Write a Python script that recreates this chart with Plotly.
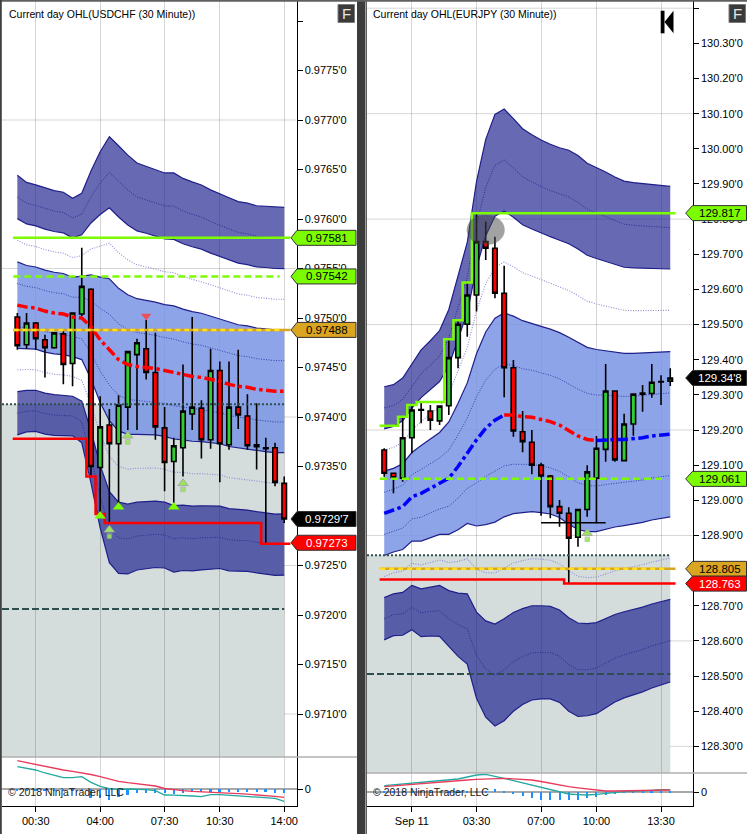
import pandas as pd
import plotly.graph_objects as go

W, H = 747, 834

# ---------------- USDCHF (left pane) ----------------
chf_times = pd.date_range("2018-09-10 23:30", periods=30, freq="30min")
chf_open = [0.97501, 0.97473, 0.97495, 0.97478, 0.97470, 0.97484, 0.97454, 0.97504, 0.97529, 0.97349,
            0.97392, 0.97373, 0.97410, 0.97463, 0.97469, 0.97445, 0.97389, 0.97355, 0.97369, 0.97403,
            0.97409, 0.97377, 0.97447, 0.97372, 0.97410, 0.97401, 0.97372, 0.97369, 0.97369, 0.97333]
chf_high = [0.97505, 0.97505, 0.97496, 0.97483, 0.97485, 0.97488, 0.97505, 0.97571, 0.97530, 0.97421,
            0.97408, 0.97422, 0.97466, 0.97479, 0.97498, 0.97485, 0.97410, 0.97379, 0.97453, 0.97501,
            0.97417, 0.97469, 0.97456, 0.97456, 0.97468, 0.97423, 0.97414, 0.97379, 0.97374, 0.97340]
chf_low = [0.97468, 0.97469, 0.97468, 0.97440, 0.97469, 0.97433, 0.97431, 0.97502, 0.97341, 0.97301,
           0.97294, 0.97309, 0.97387, 0.97387, 0.97438, 0.97377, 0.97325, 0.97313, 0.97340, 0.97387,
           0.97358, 0.97368, 0.97334, 0.97367, 0.97388, 0.97367, 0.97347, 0.97272, 0.97330, 0.97293]
chf_close = [0.97472, 0.97495, 0.97479, 0.97470, 0.97485, 0.97453, 0.97505, 0.97532, 0.97350, 0.97390,
             0.97373, 0.97412, 0.97466, 0.97475, 0.97445, 0.97390, 0.97354, 0.97371, 0.97406, 0.97410,
             0.97377, 0.97447, 0.97373, 0.97410, 0.97402, 0.97371, 0.97370, 0.97368, 0.97334, 0.97297]
chf_vwap = [0.97513, 0.97511, 0.97510, 0.97507, 0.97505, 0.97504, 0.97501, 0.97500, 0.97491, 0.97478,
            0.97468, 0.97458, 0.97453, 0.97451, 0.97450, 0.97449, 0.97447, 0.97445, 0.97443, 0.97441,
            0.97440, 0.97438, 0.97436, 0.97433, 0.97431, 0.97430, 0.97428, 0.97427, 0.97426, 0.97426]
chf_sigma = [0.000437, 0.000420, 0.000415, 0.000414, 0.000412, 0.000410, 0.000400, 0.000420, 0.000525, 0.000633,
             0.000717, 0.000720, 0.000705, 0.000685, 0.000678, 0.000670, 0.000665, 0.000672, 0.000660, 0.000655,
             0.000648, 0.000638, 0.000630, 0.000628, 0.000622, 0.000620, 0.000618, 0.000620, 0.000620, 0.000619]
chf_low_line = [0.97378, 0.97378, 0.97378, 0.97378, 0.97378, 0.97378, 0.97378, 0.97378, 0.97340, 0.97302,
                0.97293, 0.97293, 0.97293, 0.97293, 0.97293, 0.97293, 0.97293, 0.97293, 0.97293, 0.97293,
                0.97293, 0.97293, 0.97293, 0.97293, 0.97293, 0.97293, 0.97293, 0.97272, 0.97272, 0.97272]
chf_high_level = 0.97581
chf_high_dash = 0.97542
chf_open_level = 0.97488
chf_prev_dot = 0.97413
chf_prev_dash = 0.97206
chf_last = 0.97297
chf_macd = [28.3, 26.3, 24.3, 23.0, 21.0, 19.0, 17.7, 16.3, 14.5, 12.3, 10.0, 7.7, 6.3, 5.0, 4.0,
            3.0, 0.5, -0.8, -1.7, -2.4, -3.0, -3.5, -4.0, -4.3, -4.7, -5.2, -5.7, -6.5, -7.4, -8.3]
chf_signal = [22.3, 20.5, 19.0, 16.0, 13.5, 11.3, 11.3, 12.3, 6.7, 2.7, 0.3, -0.3, 0.0, 0.0, -0.7,
              -1.7, -6.0, -6.2, -6.3, -7.0, -7.7, -5.7, -5.7, -6.3, -7.0, -7.5, -8.0, -8.5, -9.3, -12.3]
chf_hist = [-2, -2, -2, -2, -2, -2, -2, -2, -9, -9, -11, -8, -6, -4, -4,
            -4, -4, -5, -4, -3, -3, -3, -3, -3, -3, -3, -3, -3, -4, -4]
chf_tri_up_idx = [9, 11, 17]
chf_tri_up_y = [0.97300, 0.97309, 0.97309]
chf_arrow_idx = [10, 12, 18]
chf_arrow_y = [0.97283, 0.97378, 0.97330]
chf_tri_dn_idx = [14]
chf_tri_dn_y = [0.97502]
chf_yticks = [0.9710, 0.9715, 0.9720, 0.9725, 0.9730, 0.9735, 0.9740, 0.9745,
              0.9750, 0.9755, 0.9760, 0.9765, 0.9770, 0.9775, 0.9780]
chf_ygrid = [0.9710, 0.9725, 0.9740, 0.9755, 0.9770]
chf_xticks = ["2018-09-11 00:30", "2018-09-11 04:00", "2018-09-11 07:30",
              "2018-09-11 10:30", "2018-09-11 14:00"]
chf_xtext = ["00:30", "04:00", "07:30", "10:30", "14:00"]

# ---------------- EURJPY (right pane) ----------------
jpy_times = pd.date_range("2018-09-10 22:30", periods=32, freq="30min")
jpy_open = [129.143, 129.077, 129.063, 129.178, 129.258, 129.254, 129.226, 129.269, 129.406, 129.501,
            129.584, 129.736, 129.717, 129.589, 129.377, 129.195, 129.165, 129.100, 129.069, 128.982,
            128.963, 128.895, 128.974, 129.063, 129.145, 129.311, 129.113, 129.217, 129.305, 129.304,
            129.338, 129.339]
jpy_high = [129.148, 129.078, 129.238, 129.271, 129.280, 129.271, 129.270, 129.458, 129.512, 129.620,
            129.817, 129.793, 129.750, 129.667, 129.399, 129.254, 129.200, 129.107, 129.072, 129.001,
            128.980, 128.975, 129.100, 129.183, 129.388, 129.311, 129.246, 129.302, 129.328, 129.388,
            129.356, 129.376]
jpy_low = [129.067, 129.020, 129.053, 129.134, 129.219, 129.200, 129.214, 129.243, 129.376, 129.465,
           129.537, 129.684, 129.575, 129.293, 129.181, 129.137, 129.074, 128.956, 128.949, 128.925,
           128.765, 128.868, 128.953, 128.935, 129.110, 129.110, 129.113, 129.184, 129.252, 129.292,
           129.271, 129.325]
jpy_close = [129.077, 129.064, 129.178, 129.257, 129.256, 129.228, 129.268, 129.406, 129.501, 129.584,
             129.736, 129.717, 129.589, 129.377, 129.197, 129.167, 129.100, 129.069, 128.982, 128.963,
             128.892, 128.974, 129.081, 129.148, 129.311, 129.115, 129.217, 129.302, 129.302, 129.336,
             129.337, 129.348]
jpy_vwap = [128.963, 128.972, 128.982, 129.010, 129.020, 129.034, 129.048, 129.063, 129.096, 129.134,
            129.172, 129.205, 129.228, 129.243, 129.243, 129.238, 129.236, 129.230, 129.224, 129.214,
            129.198, 129.183, 129.173, 129.170, 129.172, 129.173, 129.173, 129.175, 129.178, 129.183,
            129.186, 129.188]
jpy_sigma = [0.120, 0.119, 0.122, 0.126, 0.136, 0.140, 0.145, 0.160, 0.180, 0.200,
             0.245, 0.274, 0.290, 0.290, 0.281, 0.273, 0.268, 0.265, 0.263, 0.263,
             0.266, 0.266, 0.262, 0.259, 0.254, 0.249, 0.245, 0.243, 0.241, 0.239,
             0.237, 0.235]
jpy_high_line = [129.212, 129.212, 129.238, 129.271, 129.280, 129.280, 129.280, 129.458, 129.512, 129.620,
                 129.817, 129.817, 129.817, 129.817, 129.817, 129.817, 129.817, 129.817, 129.817, 129.817,
                 129.817, 129.817, 129.817, 129.817, 129.817, 129.817, 129.817, 129.817, 129.817, 129.817,
                 129.817, 129.817]
jpy_low_line = [128.775, 128.775, 128.775, 128.775, 128.775, 128.775, 128.775, 128.775, 128.775, 128.775,
                128.775, 128.775, 128.775, 128.775, 128.775, 128.775, 128.775, 128.775, 128.775, 128.775,
                128.763, 128.763, 128.763, 128.763, 128.763, 128.763, 128.763, 128.763, 128.763, 128.763,
                128.763, 128.763]
jpy_high_dash = 129.061
jpy_open_level = 128.805
jpy_prev_dot = 128.844
jpy_prev_dash = 128.506
jpy_box_level = 128.936
jpy_last = 129.348
jpy_macd = [5.7, 6.5, 7.3, 8.2, 9.0, 9.7, 10.4, 11.0, 11.7, 12.3, 13.0, 13.5, 14.0, 14.0, 13.5, 13.0,
            12.3, 10.8, 9.0, 7.3, 5.7, 4.5, 3.3, 2.2, 1.3, 1.3, 1.5, 1.8, 2.3, 2.3, 2.3, 2.3]
jpy_signal = [6.7, 7.5, 8.3, 9.2, 10.0, 10.8, 11.7, 12.5, 13.3, 15.3, 17.3, 18.0, 16.3, 14.0, 11.7, 9.5,
              7.3, 4.8, 2.3, 0.3, -1.7, -2.3, -2.7, -2.0, -1.0, -0.2, 0.7, 1.0, 1.3, 2.0, 2.7, 2.7]
jpy_hist = [1, 1, 1, 1, 1, 1, 1, 1, 1, 1, 1, 1, 3, 1, -1, -3.7,
            -6, -7.7, -7.7, -7.7, -7.7, -7.7, -6, -4.3, -2.7, -1, -0.5, 0.3, 0.5, 1, 1, 1]
jpy_vwap_red = (13, 23)
jpy_arrow_idx = [22]
jpy_arrow_y = [128.898]
jpy_yticks = [128.3, 128.4, 128.5, 128.6, 128.7, 128.8, 128.9, 129.0, 129.1, 129.2, 129.3,
              129.4, 129.5, 129.6, 129.7, 129.8, 129.9, 130.0, 130.1, 130.2, 130.3, 130.4]
jpy_ygrid = [128.3, 128.6, 128.9, 129.2, 129.5, 129.8, 130.1, 130.4]
jpy_xticks = ["2018-09-11 00:00", "2018-09-11 03:30", "2018-09-11 07:00",
              "2018-09-11 10:00", "2018-09-11 13:30"]
jpy_xtext = ["Sep 11", "03:30", "07:00", "10:00", "13:30"]

# ---------------- styling ----------------
FONT = "Liberation Sans, Arial, sans-serif"
GRID = "rgba(0,0,0,0.16)"
NAVY = "#1f1f8a"
DARK_FILL = "rgba(25,28,140,0.66)"
LIGHT_FILL = "rgba(121,148,228,0.85)"
GREEN = "#7CFC00"
GOLD = "#DAA520"
SLATE = "#2F4F4F"
ARROW = "#9BE35E"
mins = lambda m: pd.Timedelta(minutes=m)

chf_yrange = [0.970566, 0.978202]
jpy_yrange = [128.2242, 130.4205]


def px_x(p):
    return p / W


def px_y(p):
    return 1 - p / H


L_dom = [px_x(2), px_x(296.5)]
R_dom = [px_x(367), px_x(692.7)]
L_main = [px_y(757), px_y(1)]
R_main = [px_y(773), px_y(1)]
IND = px_y(806)
# price units per screen pixel in each main pane (for marker offsets)
chf_ppx = (chf_yrange[1] - chf_yrange[0]) / 756
jpy_ppx = (jpy_yrange[1] - jpy_yrange[0]) / 772

fig = go.Figure()


def add_pane(t, o, h, l, c, vwap, sig, xa, ya, yo, vwap_colors):
    def band(k):
        return [v + k * s for v, s in zip(vwap, sig)]

    common = dict(xaxis=xa, yaxis=ya, mode="lines", hoverinfo="skip", showlegend=False)
    # std-dev bands
    fig.add_trace(go.Scatter(x=t, y=band(-3), line=dict(color=NAVY, width=1.2), **common))
    fig.add_trace(go.Scatter(x=t, y=band(-2), line=dict(color=NAVY, width=1.2),
                             fill="tonexty", fillcolor=DARK_FILL, **common))
    fig.add_trace(go.Scatter(x=t, y=band(-1), line=dict(color=NAVY, width=1.2), **common))
    fig.add_trace(go.Scatter(x=t, y=band(1), line=dict(color=NAVY, width=1.2),
                             fill="tonexty", fillcolor=LIGHT_FILL, **common))
    fig.add_trace(go.Scatter(x=t, y=band(2), line=dict(color=NAVY, width=1.2), **common))
    fig.add_trace(go.Scatter(x=t, y=band(3), line=dict(color=NAVY, width=1.2),
                             fill="tonexty", fillcolor=DARK_FILL, **common))
    for k in (-2.5, 2.5):
        fig.add_trace(go.Scatter(x=t, y=band(k), line=dict(color="#2a2a90", width=1, dash="1px,1.5px"), **common))
    for k in (-0.5, 0.5):
        fig.add_trace(go.Scatter(x=t, y=band(k), line=dict(color="#3242a8", width=1, dash="1px,1.5px"), **common))
    for k in (-1.5, 1.5):
        fig.add_trace(go.Scatter(x=t, y=band(k), line=dict(color="#8c8cd4", width=1.1, dash="1px,1.5px"), **common))

    # candles on the overlay axis so they sit above the bands
    fig.add_trace(go.Candlestick(
        x=t, open=o, high=h, low=l, close=c, xaxis=xa, yaxis=yo,
        increasing=dict(fillcolor="#32CD32", line=dict(color="black", width=1.6)),
        decreasing=dict(fillcolor="#FF0000", line=dict(color="black", width=1.6)),
        whiskerwidth=0, hoverinfo="skip", showlegend=False))

    # VWAP (dash-dot), coloured by segment
    for (a, b), col in vwap_colors:
        fig.add_trace(go.Scatter(x=t[a:b + 1], y=vwap[a:b + 1], xaxis=xa, yaxis=yo, mode="lines",
                                 line=dict(color=col, width=3.5, dash="dashdot"),
                                 hoverinfo="skip", showlegend=False))


def hline(x0, x1, y, color, width, dash, xa, yo):
    fig.add_trace(go.Scatter(x=[x0, x1], y=[y, y], xaxis=xa, yaxis=yo, mode="lines",
                             line=dict(color=color, width=width, dash=dash),
                             hoverinfo="skip", showlegend=False))


def stepline(t, vals, color, xa, yo, end_pad):
    xs = [tt - mins(15) for tt in t] + [t[-1] + mins(end_pad)]
    fig.add_trace(go.Scatter(x=xs, y=list(vals) + [vals[-1]], xaxis=xa, yaxis=yo, mode="lines",
                             line=dict(color=color, width=2.5, shape="hv"),
                             hoverinfo="skip", showlegend=False))


def arrows(xs, ys, ppx, xa, yo):
    # block arrow: stem + head
    fig.add_trace(go.Scatter(x=xs, y=[v - 3 * ppx for v in ys], xaxis=xa, yaxis=yo, mode="markers",
                             marker=dict(symbol="square", size=[4.5] * len(xs), color=ARROW,
                                         line=dict(color="#a0a0a0", width=0.8)),
                             hoverinfo="skip", showlegend=False))
    fig.add_trace(go.Scatter(x=xs, y=[v + 3 * ppx for v in ys], xaxis=xa, yaxis=yo, mode="markers",
                             marker=dict(symbol="triangle-up", size=9, color=ARROW,
                                         line=dict(color="#a0a0a0", width=0.8)),
                             hoverinfo="skip", showlegend=False))
    fig.add_trace(go.Scatter(x=xs, y=[v - 4 * ppx for v in ys], xaxis=xa, yaxis=yo, mode="markers",
                             marker=dict(symbol="square", size=[3.8] * len(xs), color=ARROW,
                                         line=dict(width=0)),
                             hoverinfo="skip", showlegend=False))


def indicator(t, macd, signal, hist, xa, yi):
    fig.add_trace(go.Bar(x=t, y=hist, xaxis=xa, yaxis=yi, width=6.5 * 60 * 1000,
                         marker=dict(color="#1E90FF", line=dict(width=0)),
                         hoverinfo="skip", showlegend=False))
    fig.add_trace(go.Scatter(x=t, y=signal, xaxis=xa, yaxis=yi, mode="lines",
                             line=dict(color="#22A8A0", width=1.3), hoverinfo="skip", showlegend=False))
    fig.add_trace(go.Scatter(x=t, y=macd, xaxis=xa, yaxis=yi, mode="lines",
                             line=dict(color="#E83A5C", width=1.3), hoverinfo="skip", showlegend=False))


# ---- left pane ----
add_pane(chf_times, chf_open, chf_high, chf_low, chf_close, chf_vwap, chf_sigma,
         "x", "y", "y5", [((0, 29), "#FF0000")])
t0, tl = chf_times[0], chf_times[-1]
chf_xrange = [t0 - mins(50), tl + mins(40)]
hline(chf_xrange[0], tl, chf_prev_dot, SLATE, 2, "2px,2px", "x", "y5")
hline(chf_xrange[0], tl, chf_prev_dash, SLATE, 2, "7px,3px", "x", "y5")
hline(t0 - mins(14), tl + mins(20), chf_high_level, GREEN, 2.5, "solid", "x", "y5")
hline(t0 - mins(13), tl - mins(15), chf_high_dash, GREEN, 2.5, "7px,4px", "x", "y5")
hline(t0 - mins(14), tl + mins(20), chf_open_level, GOLD, 2.5, "solid", "x", "y5")
hline(t0 - mins(13), tl - mins(15), chf_open_level, "#FFE01A", 2.5, "5px,4px", "x", "y5")
stepline(chf_times, chf_low_line, "#FF0000", "x", "y5", 20)
fig.add_trace(go.Scatter(x=[chf_times[i] for i in chf_tri_up_idx], y=chf_tri_up_y, xaxis="x", yaxis="y5",
                         mode="markers", marker=dict(symbol="triangle-up", size=10, color=GREEN),
                         hoverinfo="skip", showlegend=False))
arrows([chf_times[i] for i in chf_arrow_idx], chf_arrow_y, chf_ppx, "x", "y5")
fig.add_trace(go.Scatter(x=[chf_times[i] for i in chf_tri_dn_idx], y=chf_tri_dn_y, xaxis="x", yaxis="y5",
                         mode="markers", marker=dict(symbol="triangle-down", size=9, color="#E8505A"),
                         hoverinfo="skip", showlegend=False))
indicator(chf_times, chf_macd, chf_signal, chf_hist, "x2", "y2")

# ---- right pane ----
add_pane(jpy_times, jpy_open, jpy_high, jpy_low, jpy_close, jpy_vwap, jpy_sigma,
         "x3", "y3", "y6",
         [((0, jpy_vwap_red[0]), "#0000FF"), (jpy_vwap_red, "#FF0000"), ((jpy_vwap_red[1], 31), "#0000FF")])
r0, rl = jpy_times[0], jpy_times[-1]
jpy_xrange = [r0 - mins(56), rl + mins(73)]
hline(jpy_xrange[0], rl, jpy_prev_dot, SLATE, 2, "2px,2px", "x3", "y6")
hline(jpy_xrange[0], rl, jpy_prev_dash, SLATE, 2, "7px,3px", "x3", "y6")
hline(r0 - mins(14), rl - mins(15), jpy_high_dash, GREEN, 2.5, "7px,4px", "x3", "y6")
hline(r0 - mins(14), rl + mins(17), jpy_open_level, GOLD, 2.5, "solid", "x3", "y6")
hline(r0 - mins(13), rl - mins(15), jpy_open_level, "#FFE01A", 2.5, "5px,4px", "x3", "y6")
hline(jpy_times[17], jpy_times[24], jpy_box_level, "black", 1.5, "solid", "x3", "y6")
stepline(jpy_times, jpy_high_line, GREEN, "x3", "y6", 17)
stepline(jpy_times, jpy_low_line, "#FF0000", "x3", "y6", 17)
arrows([jpy_times[i] for i in jpy_arrow_idx], jpy_arrow_y, jpy_ppx, "x3", "y6")
indicator(jpy_times, jpy_macd, jpy_signal, jpy_hist, "x4", "y4")

# ---------------- axes ----------------
tickfont = dict(family=FONT, size=11, color="black")
xbase = dict(type="date", showgrid=True, gridcolor=GRID, gridwidth=1, zeroline=False,
             tickmode="array", rangeslider=dict(visible=False))
ybase = dict(side="right", showgrid=False, zeroline=False, ticks="outside", ticklen=5,
             tickcolor="black", showline=True, linecolor="black", linewidth=1, tickfont=tickfont)

fig.update_layout(
    width=W, height=H, margin=dict(l=0, r=0, t=0, b=0),
    paper_bgcolor="white", plot_bgcolor="white", showlegend=False, bargap=0,
    xaxis=dict(xbase, domain=L_dom, anchor="y", range=chf_xrange, tickvals=chf_xticks,
               showticklabels=False, ticks=""),
    xaxis2=dict(xbase, domain=L_dom, anchor="y2", matches="x", tickvals=chf_xticks, ticktext=chf_xtext,
                ticks="outside", ticklen=5, tickcolor="black", showline=True, linecolor="black",
                tickfont=dict(family=FONT, size=11, color="black")),
    yaxis=dict(ybase, domain=L_main, anchor="x", range=chf_yrange, tickvals=chf_yticks,
               ticktext=["%.4f'0" % v if v < 0.9778 else "" for v in chf_yticks]),
    yaxis5=dict(overlaying="y", anchor="x", range=chf_yrange, visible=False),
    yaxis2=dict(ybase, domain=[IND, L_main[0]], anchor="x2", range=[-17, 32], tickvals=[0], ticktext=["0"],
                zeroline=True, zerolinecolor="#a8a8a8", zerolinewidth=1.5),
    xaxis3=dict(xbase, domain=R_dom, anchor="y3", range=jpy_xrange, tickvals=jpy_xticks,
                showticklabels=False, ticks=""),
    xaxis4=dict(xbase, domain=R_dom, anchor="y4", matches="x3", tickvals=jpy_xticks, ticktext=jpy_xtext,
                ticks="outside", ticklen=5, tickcolor="black", showline=True, linecolor="black",
                tickfont=dict(family=FONT, size=11, color="black")),
    yaxis3=dict(ybase, domain=R_main, anchor="x3", range=jpy_yrange, tickvals=jpy_yticks,
                ticktext=["%.2f'0" % v if v < 130.35 else "" for v in jpy_yticks]),
    yaxis6=dict(overlaying="y3", anchor="x3", range=jpy_yrange, visible=False),
    yaxis4=dict(ybase, domain=[IND, R_main[0]], anchor="x4", range=[-13.7, 19.3], tickvals=[0], ticktext=["0"],
                zeroline=True, zerolinecolor="#a8a8a8", zerolinewidth=1.5),
)

shapes = []
# previous-range grey areas and horizontal grid
shapes.append(dict(type="rect", xref="x", yref="y", x0=chf_xrange[0], x1=tl, y0=chf_yrange[0], y1=chf_prev_dot,
                   fillcolor="#d4dcdc", line=dict(width=0), layer="below"))
shapes.append(dict(type="rect", xref="x3", yref="y3", x0=jpy_xrange[0], x1=rl, y0=jpy_yrange[0], y1=jpy_prev_dot,
                   fillcolor="#d4dcdc", line=dict(width=0), layer="below"))
for v in chf_ygrid:
    shapes.append(dict(type="line", xref="x domain", yref="y", x0=0, x1=1, y0=v, y1=v,
                       line=dict(color=GRID, width=1), layer="below"))
for v in jpy_ygrid:
    shapes.append(dict(type="line", xref="x3 domain", yref="y3", x0=0, x1=1, y0=v, y1=v,
                       line=dict(color=GRID, width=1), layer="below"))

# pane separators / frames
shapes.append(dict(type="line", xref="paper", yref="paper", x0=0, x1=px_x(357), y0=L_main[0], y1=L_main[0],
                   line=dict(color="#b0b0b0", width=1.5), layer="above"))
shapes.append(dict(type="line", xref="paper", yref="paper", x0=px_x(366), x1=1, y0=R_main[0], y1=R_main[0],
                   line=dict(color="#b0b0b0", width=1.5), layer="above"))
shapes.append(dict(type="rect", xref="paper", yref="paper", x0=px_x(357), x1=px_x(365.5), y0=0, y1=1,
                   fillcolor="#3c3c3c", line=dict(width=0), layer="above"))
shapes.append(dict(type="line", xref="paper", yref="paper", x0=0, x1=1, y0=px_y(0.8), y1=px_y(0.8),
                   line=dict(color="#606060", width=2), layer="above"))
shapes.append(dict(type="line", xref="paper", yref="paper", x0=px_x(0.8), x1=px_x(0.8), y0=0, y1=1,
                   line=dict(color="#404040", width=2), layer="above"))
shapes.append(dict(type="line", xref="paper", yref="paper", x0=px_x(366.5), x1=px_x(366.5), y0=0, y1=1,
                   line=dict(color="#606060", width=1), layer="above"))

# highlight circle at the EURJPY high
shapes.append(dict(type="circle", xref="x3", yref="y6", x0=jpy_times[11] - mins(62), x1=jpy_times[11] + mins(62),
                   y0=129.726, y1=129.812, fillcolor="rgba(70,70,70,0.5)", line=dict(width=0), layer="above"))

# "F" buttons
for bx in (338, 729):
    shapes.append(dict(type="rect", xref="paper", yref="paper", x0=px_x(bx), x1=px_x(bx + 16.5),
                       y0=px_y(22.5), y1=px_y(4.5), fillcolor="#3a3a3a",
                       line=dict(color="#7a7a7a", width=1), layer="above"))
    fig.add_annotation(x=px_x(bx + 8.25), y=px_y(13.5), xref="paper", yref="paper", text="F",
                       showarrow=False, xanchor="center", yanchor="middle",
                       font=dict(family=FONT, size=15, color="#e6e6e6"))

# go-to-start icon
shapes.append(dict(type="rect", xref="paper", yref="paper", x0=px_x(660.7), x1=px_x(664.5),
                   y0=px_y(33.3), y1=px_y(10.7), fillcolor="black", line=dict(width=0), layer="above"))
shapes.append(dict(type="path", xref="paper", yref="paper",
                   path="M %f,%f L %f,%f L %f,%f Z" % (px_x(664.5), px_y(22), px_x(673.5), px_y(10.7),
                                                      px_x(673.5), px_y(33.3)),
                   fillcolor="black", line=dict(width=0), layer="above"))


def price_to_paper(v, rng, dom):
    return dom[0] + (v - rng[0]) / (rng[1] - rng[0]) * (dom[1] - dom[0])


def tag(v, rng, dom, tip, x0, x1, fill, text, tcolor):
    yp = price_to_paper(v, rng, dom)
    hh = 7.5 / H
    path = "M %f,%f L %f,%f L %f,%f L %f,%f L %f,%f Z" % (
        px_x(tip), yp, px_x(x0), yp + hh, px_x(x1), yp + hh, px_x(x1), yp - hh, px_x(x0), yp - hh)
    shapes.append(dict(type="path", xref="paper", yref="paper", path=path, fillcolor=fill,
                       line=dict(color="#303030", width=1), layer="above"))
    fig.add_annotation(x=px_x((x0 + x1) / 2), y=yp, xref="paper", yref="paper", text=text, showarrow=False,
                       font=dict(family=FONT, size=11.5, color=tcolor), xanchor="center", yanchor="middle")


tag(chf_high_level, chf_yrange, L_main, 291, 297, 356, GREEN, "0.97581", "black")
tag(chf_high_dash, chf_yrange, L_main, 291, 297, 356, GREEN, "0.97542", "black")
tag(chf_open_level, chf_yrange, L_main, 291, 297, 356, GOLD, "0.97488", "black")
tag(chf_last, chf_yrange, L_main, 291, 297, 356, "black", "0.9729'7", "white")
tag(chf_low_line[-1] + 0.00001, chf_yrange, L_main, 291, 297, 356, "#FF0000", "0.97273", "white")
tag(jpy_high_line[-1], jpy_yrange, R_main, 685.7, 692.5, 746.5, GREEN, "129.817", "black")
tag(jpy_last, jpy_yrange, R_main, 685.7, 692.5, 746.5, "black", "129.34'8", "white")
tag(jpy_high_dash, jpy_yrange, R_main, 685.7, 692.5, 746.5, GREEN, "129.061", "black")
tag(jpy_open_level, jpy_yrange, R_main, 685.7, 692.5, 746.5, GOLD, "128.805", "black")
tag(jpy_low_line[-1], jpy_yrange, R_main, 685.7, 692.5, 746.5, "#FF0000", "128.763", "white")

fig.update_layout(shapes=shapes)

# titles and copyright
for x, txt in ((7, "Current day OHL(USDCHF (30 Minute))"), (371, "Current day OHL(EURJPY (30 Minute))")):
    fig.add_annotation(x=px_x(x), y=px_y(14), xref="paper", yref="paper", text=txt, showarrow=False,
                       xanchor="left", yanchor="middle", font=dict(family=FONT, size=10.5, color="black"))
for x in (6, 371):
    fig.add_annotation(x=px_x(x), y=px_y(792), xref="paper", yref="paper", text="© 2018 NinjaTrader, LLC",
                       showarrow=False, xanchor="left", yanchor="middle",
                       font=dict(family=FONT, size=10.5, color="#202020"))

fig.write_html("out.html", config={"displayModeBar": False},
               post_script="document.body.style.margin='0';document.body.style.overflow='hidden';")
